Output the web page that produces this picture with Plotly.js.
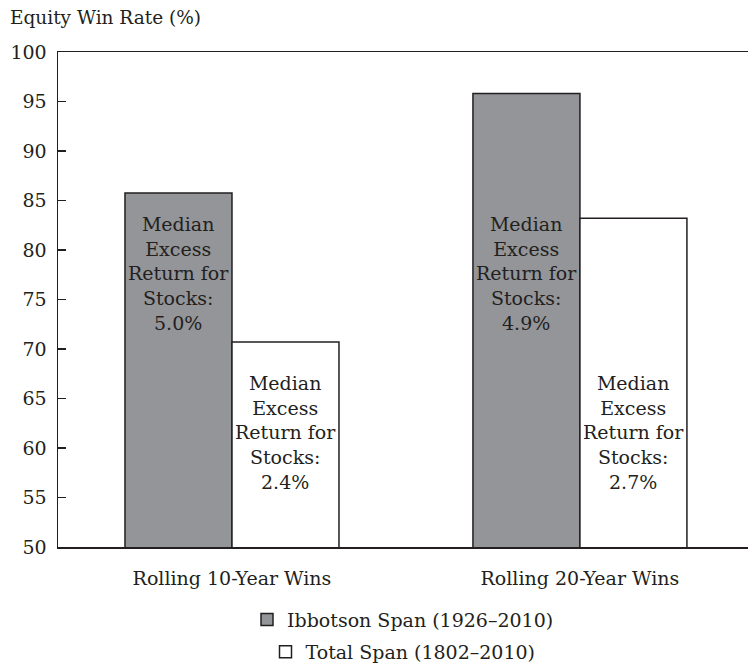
<!DOCTYPE html>
<html>
<head>
<meta charset="utf-8">
<script src="https://cdn.plot.ly/plotly-3.0.1.min.js"></script>
<style>
    body { margin: 0; background: #fff; }
    #plot { width: 748px; height: 666px; }
</style>
</head>
<body>
<div id="plot"></div>
<script>
// Chart data
const categories = ['Rolling 10-Year Wins', 'Rolling 20-Year Wins'];
const ibbotsonWinRate = [85.75, 95.8];
const totalWinRate = [70.7, 83.2];
const ibbotsonExcess = ['5.0%', '4.9%'];
const totalExcess = ['2.4%', '2.7%'];
const seriesNames = ['Ibbotson Span (1926–2010)', 'Total Span (1802–2010)'];

const ink = '#231f20';
const serif = 'DejaVu Serif, serif';
const bargap = 0.385;
// offset of each bar centre from the category centre
const barOffset = (1 - bargap) / 4;

const trace1 = {
    x: categories,
    y: ibbotsonWinRate,
    type: 'bar',
    name: seriesNames[0],
    marker: { color: '#939598', line: { color: ink, width: 1.5 } },
    legend: 'legend',
    hoverinfo: 'none'
};
const trace2 = {
    x: categories,
    y: totalWinRate,
    type: 'bar',
    name: seriesNames[1],
    marker: { color: '#ffffff', line: { color: ink, width: 1.5 } },
    legend: 'legend2',
    hoverinfo: 'none'
};

// Labels inside the bars
function excessLabel(value) {
    return 'Median<br>Excess<br>Return for<br>Stocks:<br>' + value;
}
const annotations = [];
categories.forEach((cat, i) => {
    annotations.push({
        x: i - barOffset, y: 77.6, xref: 'x', yref: 'y',
        text: excessLabel(ibbotsonExcess[i]), showarrow: false,
        font: { family: serif, size: 19, color: ink }
    });
    annotations.push({
        x: i + barOffset, y: 61.6, xref: 'x', yref: 'y',
        text: excessLabel(totalExcess[i]), showarrow: false,
        font: { family: serif, size: 19, color: ink }
    });
});
// Axis title sits above the axis, top left
annotations.push({
    x: -0.0725, y: 1.069, xref: 'paper', yref: 'paper',
    xanchor: 'left', yanchor: 'middle',
    text: 'Equity Win Rate (%)', showarrow: false,
    font: { family: serif, size: 18.5, color: ink }
});

const layout = {
    width: 748,
    height: 666,
    // keep the plot area fixed, legends sit in the bottom margin
    margin: { l: 58, r: 0, t: 52, b: 119, autoexpand: false },
    paper_bgcolor: '#fff',
    plot_bgcolor: '#fff',
    font: { family: serif, size: 19, color: ink },
    barmode: 'group',
    bargap: bargap,
    bargroupgap: 0,
    xaxis: {
        type: 'category',
        range: [-0.5, 1.483],
        showline: true, mirror: true,
        linecolor: ink, linewidth: 1.5,
        ticks: '', showgrid: false,
        tickangle: 0,
        ticklabelstandoff: 14,
        tickfont: { family: serif, size: 19, color: ink }
    },
    yaxis: {
        range: [50, 100],
        tickvals: [50, 55, 60, 65, 70, 75, 80, 85, 90, 95, 100],
        showline: true, linecolor: ink, linewidth: 1.5,
        ticks: 'inside', ticklen: 8, tickcolor: ink, tickwidth: 1.2,
        showgrid: false, zeroline: false,
        ticklabelstandoff: 6,
        tickfont: { family: serif, size: 19, color: ink }
    },
    legend: {
        x: 0.5, y: -0.147, xanchor: 'center', yanchor: 'middle',
        orientation: 'v', bgcolor: 'rgba(0,0,0,0)',
        font: { family: serif, size: 19, color: ink }
    },
    legend2: {
        x: 0.5, y: -0.212, xanchor: 'center', yanchor: 'middle',
        orientation: 'v', bgcolor: 'rgba(0,0,0,0)',
        font: { family: serif, size: 19, color: ink }
    },
    annotations: annotations,
    showlegend: true
};

Plotly.newPlot('plot', [trace1, trace2], layout, { displayModeBar: false, staticPlot: true });
</script>
</body>
</html>
